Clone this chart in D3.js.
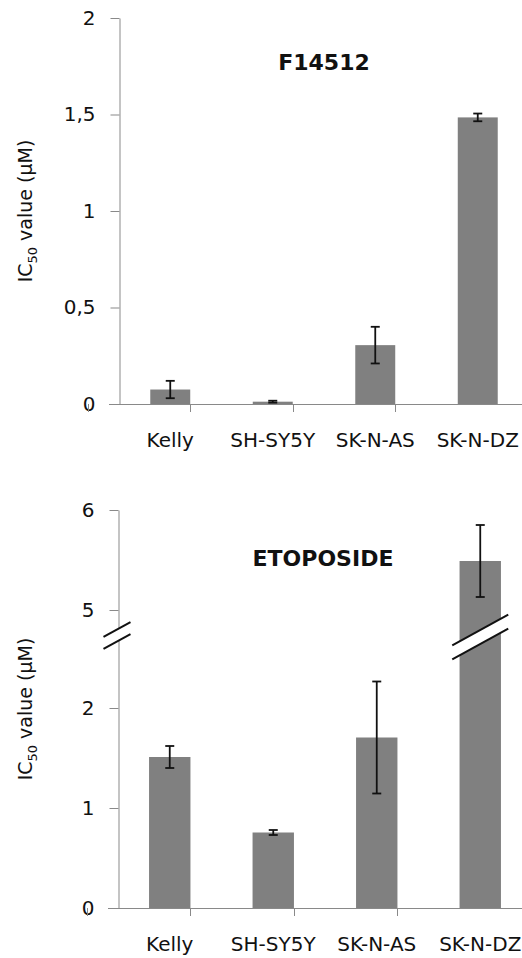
<!DOCTYPE html>
<html>
<head>
<meta charset="utf-8">
<script src="https://cdn.jsdelivr.net/npm/d3@7"></script>
<style>
  html, body { margin: 0; padding: 0; background: #fff; }
  svg { display: block; }
  text { font-family: "DejaVu Sans", sans-serif; fill: #111; }
</style>
</head>
<body>
<svg id="chart" width="522" height="958"></svg>
<script>
// ---------- data ----------
const categories = ["Kelly", "SH-SY5Y", "SK-N-AS", "SK-N-DZ"];

const f14512Title = "F14512";
const f14512Values = [0.075, 0.012, 0.305, 1.485];
const f14512Errors = [0.045, 0.005, 0.095, 0.02];
const f14512Ticks = [0, 0.5, 1, 1.5, 2];

const etoposideTitle = "ETOPOSIDE";
const etoposideValues = [1.51, 0.755, 1.705, 5.49];
const etoposideErrors = [0.11, 0.025, 0.56, 0.36];
const etoposideTicksLow = [0, 1, 2];
const etoposideTicksHigh = [5, 6];
const etoposideBreak = [2.73, 4.75];

const yLabel = "value (µM)";

// ---------- helpers ----------
const svg = d3.select("#chart");
const fmt = v => String(v).replace(".", ",");
const BAR = "#808080", AXIS = "#898989";

function yTitle(cy) {
  const t = svg.append("text")
    .attr("transform", `translate(32,${cy}) rotate(-90)`)
    .attr("text-anchor", "middle")
    .style("font-size", "19px");
  t.append("tspan").text("IC");
  t.append("tspan").text("50").style("font-size", "13px").attr("dy", 5);
  t.append("tspan").text(" " + yLabel).attr("dy", -5);
}

function drawPanel(opts) {
  const { values, errors, title, x, y, axisX, baseY, titleX, titleY } = opts;
  const g = svg.append("g");

  // x axis line and ticks
  g.append("line")
    .attr("x1", axisX - 10).attr("x2", 522)
    .attr("y1", baseY + 0.5).attr("y2", baseY + 0.5)
    .attr("stroke", AXIS).attr("stroke-width", 1);
  const bounds = categories.map(c => x(c) - x.step() * x.paddingOuter() - (x.step() - x.bandwidth()) / 2);
  g.selectAll(".xt").data(bounds).enter().append("line")
    .attr("x1", d => Math.round(d) + 0.5).attr("x2", d => Math.round(d) + 0.5)
    .attr("y1", baseY).attr("y2", baseY + 8)
    .attr("stroke", AXIS);

  // category labels
  g.selectAll(".xl").data(categories).enter().append("text")
    .attr("x", d => x(d) + x.bandwidth() / 2)
    .attr("y", baseY + 43)
    .attr("text-anchor", "middle")
    .style("font-size", "20px")
    .text(d => d);

  // bars
  g.selectAll(".bar").data(values).enter().append("rect")
    .attr("x", (d, i) => x(categories[i]))
    .attr("width", x.bandwidth())
    .attr("y", d => y(d))
    .attr("height", d => y(0) - y(d))
    .attr("fill", BAR);

  // error bars
  const eg = g.selectAll(".err").data(values).enter().append("g")
    .attr("stroke", "#111").attr("stroke-width", 1.8);
  const cx = i => x(categories[i]) + x.bandwidth() / 2;
  eg.append("line")
    .attr("x1", (d, i) => cx(i)).attr("x2", (d, i) => cx(i))
    .attr("y1", (d, i) => y(d + errors[i])).attr("y2", (d, i) => y(d - errors[i]));
  eg.append("line")
    .attr("x1", (d, i) => cx(i) - 4.5).attr("x2", (d, i) => cx(i) + 4.5)
    .attr("y1", (d, i) => y(d + errors[i])).attr("y2", (d, i) => y(d + errors[i]));
  eg.append("line")
    .attr("x1", (d, i) => cx(i) - 4.5).attr("x2", (d, i) => cx(i) + 4.5)
    .attr("y1", (d, i) => y(d - errors[i])).attr("y2", (d, i) => y(d - errors[i]));

  // title
  g.append("text")
    .attr("x", titleX).attr("y", titleY)
    .attr("text-anchor", "middle")
    .style("font-size", "22px").style("font-weight", "bold")
    .text(title);
  return g;
}

function styleAxis(sel) {
  sel.select(".domain").attr("stroke", AXIS);
  sel.selectAll(".tick line").attr("stroke", AXIS);
  sel.selectAll(".tick text")
    .style("font-size", "20px")
    .style("font-family", "'DejaVu Sans', sans-serif")
    .attr("fill", "#111");
}

// ---------- panel 1: F14512 ----------
const x1 = d3.scaleBand().domain(categories).range([119, 119 + 4 * 102.5]).paddingInner(0.61).paddingOuter(0.305);
const y1 = d3.scaleLinear().domain([0, 2]).range([404, 18]);

const ax1 = svg.append("g").attr("transform", "translate(119.5,0)")
  .call(d3.axisLeft(y1).tickValues(f14512Ticks).tickFormat(fmt).tickSize(9).tickSizeOuter(0).tickPadding(15));
styleAxis(ax1);

drawPanel({
  values: f14512Values, errors: f14512Errors, title: f14512Title,
  x: x1, y: y1, axisX: 119, baseY: 404, titleX: 324, titleY: 70
});
yTitle(211);

// ---------- panel 2: ETOPOSIDE (broken axis) ----------
const x2 = d3.scaleBand().domain(categories).range([118, 118 + 4 * 103.5]).paddingInner(0.6).paddingOuter(0.3);
const y2low = d3.scaleLinear().domain([0, etoposideBreak[0]]).range([908, 635]);
const y2high = d3.scaleLinear().domain([etoposideBreak[1], 6]).range([635, 510]);
const y2 = v => v <= etoposideBreak[0] ? y2low(v) : y2high(Math.max(v, etoposideBreak[1]));

const ax2a = svg.append("g").attr("transform", "translate(118.5,0)")
  .call(d3.axisLeft(y2low).tickValues(etoposideTicksLow).tickFormat(fmt).tickSize(9).tickSizeOuter(0).tickPadding(15));
const ax2b = svg.append("g").attr("transform", "translate(118.5,0)")
  .call(d3.axisLeft(y2high).tickValues(etoposideTicksHigh).tickFormat(fmt).tickSize(9).tickSizeOuter(0).tickPadding(15));
styleAxis(ax2a); styleAxis(ax2b);

drawPanel({
  values: etoposideValues, errors: etoposideErrors, title: etoposideTitle,
  x: x2, y: y2, axisX: 118, baseY: 908, titleX: 323, titleY: 566
});
yTitle(709);

// break marks
function breakMark(cx, cy, halfW, gap) {
  const slope = 0.55;
  const dy = halfW * slope;
  const pts = [
    [cx - halfW, cy + dy - gap / 2], [cx + halfW, cy - dy - gap / 2],
    [cx + halfW, cy - dy + gap / 2], [cx - halfW, cy + dy + gap / 2]
  ];
  svg.append("polygon").attr("points", pts.map(p => p.join(",")).join(" ")).attr("fill", "#fff");
  svg.append("line").attr("x1", pts[0][0]).attr("y1", pts[0][1]).attr("x2", pts[1][0]).attr("y2", pts[1][1])
    .attr("stroke", "#111").attr("stroke-width", 2);
  svg.append("line").attr("x1", pts[3][0]).attr("y1", pts[3][1]).attr("x2", pts[2][0]).attr("y2", pts[2][1])
    .attr("stroke", "#111").attr("stroke-width", 2);
}
const breakY = y2low(etoposideBreak[0]);
breakMark(117, breakY + 0.5, 13.5, 12);
const dzX = x2("SK-N-DZ") + x2.bandwidth() / 2;
breakMark(dzX, breakY + 2, 28, 14);
</script>
</body>
</html>
